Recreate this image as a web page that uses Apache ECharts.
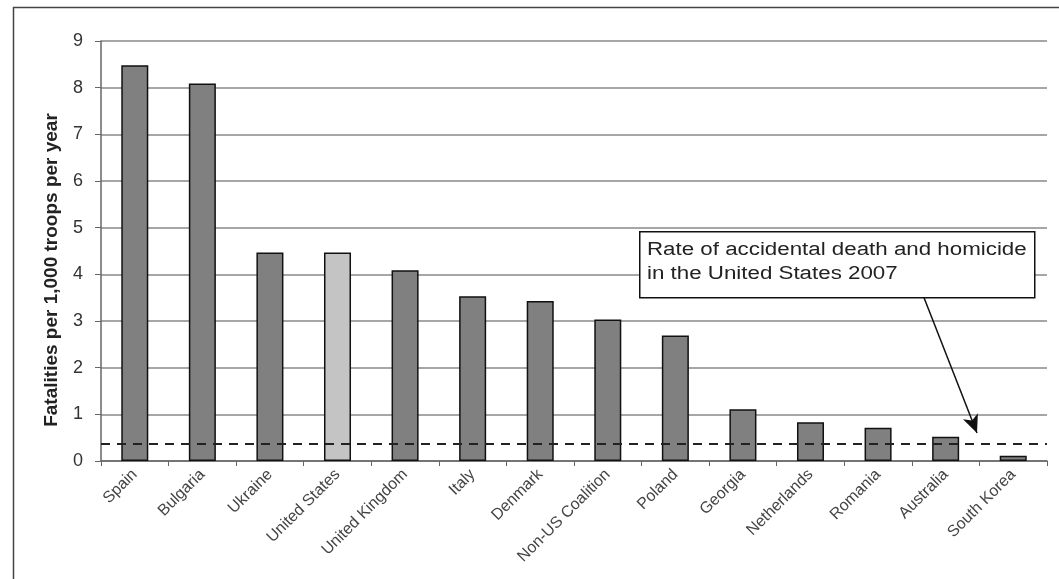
<!DOCTYPE html>
<html>
<head>
<meta charset="utf-8">
<script src="https://cdn.jsdelivr.net/npm/echarts@6/dist/echarts.min.js"></script>
<style>
html,body{margin:0;padding:0;background:#fff;}
#chart{width:1059px;height:579px;}
</style>
</head>
<body>
<div id="chart"></div>
<script>
const categories = ['Spain','Bulgaria','Ukraine','United States','United Kingdom','Italy','Denmark','Non-US Coalition','Poland','Georgia','Netherlands','Romania','Australia','South Korea'];
const rates = [8.48, 8.09, 4.47, 4.47, 4.09, 3.53, 3.43, 3.03, 2.69, 1.11, 0.83, 0.71, 0.52, 0.11];
const highlighted = 'United States';
const usBaseline = 0.38;
const yTicks = [0,1,2,3,4,5,6,7,8,9];
const yTitle = 'Fatalities per 1,000 troops per year';
const noteLines = ['Rate of accidental death and homicide', 'in the United States 2007'];

const chart = echarts.init(document.getElementById('chart'));
const FONT = '"Liberation Sans", Arial, sans-serif';

chart.setOption({
  animation: false,
  backgroundColor: '#fff',
  grid: {left: 101, right: 12, top: 41, bottom: 118},
  xAxis: {
    type: 'category',
    data: categories,
    axisLine: {lineStyle: {color: '#666', width: 1.5}},
    axisTick: {show: true, alignWithLabel: false, length: 5, lineStyle: {color: '#666'}},
    axisLabel: {rotate: 45, fontFamily: FONT, fontSize: 16, color: '#444', margin: 11, interval: 0},
    splitLine: {show: false}
  },
  yAxis: {
    type: 'value',
    min: yTicks[0], max: yTicks[yTicks.length-1], interval: 1,
    axisLine: {show: true, lineStyle: {color: '#666', width: 1.5}},
    axisTick: {show: true, length: 6, lineStyle: {color: '#666'}},
    axisLabel: {fontFamily: FONT, fontSize: 18, color: '#333', margin: 18},
    splitLine: {lineStyle: {color: '#888', width: 1.5}}
  },
  series: [{
    type: 'bar',
    barCategoryGap: '60%',
    data: rates.map((v, i) => ({
      value: v,
      itemStyle: {color: categories[i] === highlighted ? '#c4c4c4' : '#808080'}
    })),
    itemStyle: {borderColor: '#111', borderWidth: 1.5},
    markLine: {
      silent: true,
      symbol: 'none',
      label: {show: false},
      data: [
        [{xAxis: 0, yAxis: usBaseline, x: 101, lineStyle: {type: [9, 7], color: '#222', width: 2}},
         {x: 1047, yAxis: usBaseline}],
        [{x: 921, y: 290, symbol: 'none', lineStyle: {type: 'solid', color: '#111', width: 1.5}},
         {x: 977, y: 433, symbol: 'arrow', symbolSize: [12, 18]}]
      ]
    }
  }],
  graphic: [
    {type: 'rect', left: 11, top: 5, shape: {width: 1060, height: 600}, style: {fill: 'none', stroke: '#444', lineWidth: 1.5}, silent: true, z: 100},
    {type: 'text', x: 52, y: 270, rotation: Math.PI / 2, style: {text: yTitle, font: 'bold 19px ' + FONT, fill: '#222', align: 'center', verticalAlign: 'middle'}, z: 51},
    {type: 'rect', left: 639, top: 231, shape: {width: 395, height: 66}, style: {fill: '#fff', stroke: '#111', lineWidth: 1.5}, z: 50},
    {type: 'text', x: 647, y: 238, scaleX: 1.24, style: {text: noteLines.join('\n'), font: '18px ' + FONT, fill: '#222', lineHeight: 24}, z: 51}
  ]
});
</script>
</body>
</html>
